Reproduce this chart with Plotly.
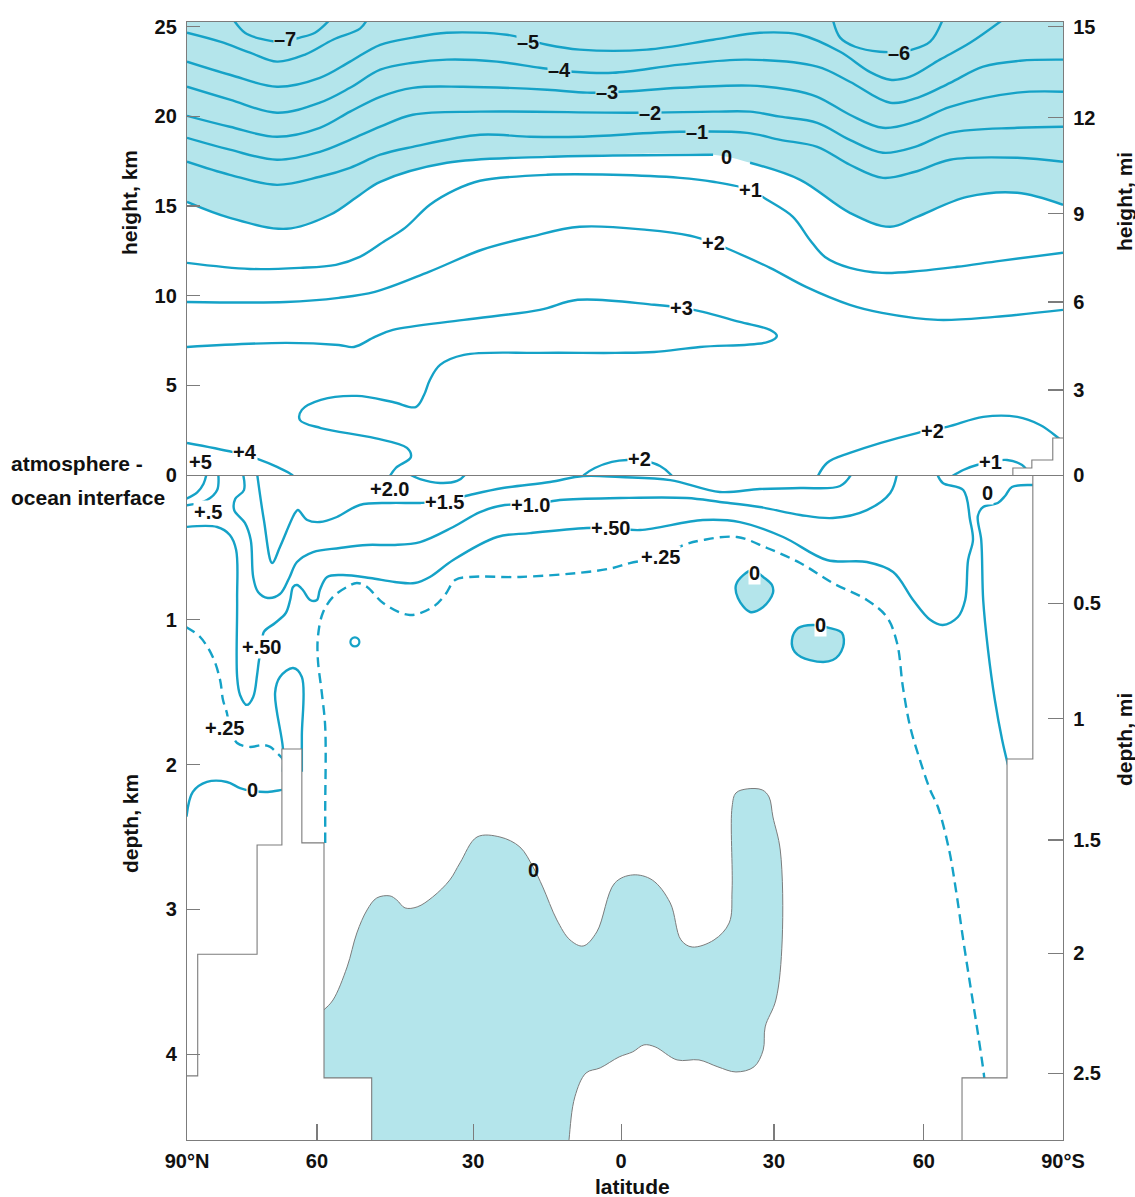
import plotly.graph_objects as go

LINE = '#15a2c7'
SHADE = '#b4e5eb'
GRAY = '#7c7c7c'
TXT = '#111111'
FONT = 'Arial, Liberation Sans, sans-serif'
FS = 20

# ---------------- axis ticks ----------------
lat_tick_vals = [-90, -63.3, -31.2, -0.8, 30.6, 61.4, 90]
lat_tick_text = ['90°N', '60', '30', '0', '30', '60', '90°S']
height_km_ticks = [0, 5, 10, 15, 20, 25]
height_mi_pos = [0, 4.74, 9.65, 14.56, 19.92, 25.0]
height_mi_text = ['0', '3', '6', '9', '12', '15']
depth_km_ticks = [1, 2, 3, 4]
depth_mi_pos = [0.886, 1.683, 2.521, 3.303, 4.132]
depth_mi_text = ['0.5', '1', '1.5', '2', '2.5']

# ---------------- atmosphere contours (latitude, height km) ----------------
atm_m7_lat = [-80.5, -78.1, -75.0, -70.9, -66.8, -63.7, -60.6]
atm_m7_h = [25.4, 24.66, 24.33, 24.16, 24.39, 24.66, 25.4]
atm_m6a_lat = [-90, -83.2, -77.05, -71.5, -65.75, -60.0, -54.45, -53.0]
atm_m6a_h = [24.66, 24.16, 23.55, 23.05, 23.44, 24.27, 24.89, 25.4]
atm_m6b_lat = [42.7, 44.2, 47.3, 52.4, 56.1, 59.0, 62.7, 65.3]
atm_m6b_h = [25.4, 24.39, 23.88, 23.6, 23.6, 23.72, 24.16, 25.4]
atm_m5_lat = [-90, -81.2, -71.5, -62.7, -56.5, -50.3, -43.6, -36.6, -24.3, -19.9, -16.0, -9.3, 4.5,
              18.1, 27.7, 36.0, 44.2, 50.3, 54.5, 58.6, 64.7, 70.9, 77.7]
atm_m5_h = [23.05, 22.32, 21.65, 22.15, 23.05, 23.99, 24.39, 24.66, 24.55, 24.27, 23.99, 23.72, 23.72,
            24.27, 24.66, 24.55, 23.6, 22.48, 22.04, 22.21, 23.16, 24.1, 25.4]
atm_m4_lat = [-90, -81.2, -71.5, -62.7, -56.5, -50.3, -43.6, -36.6, -26.3, -17.5, -10.7, -2.5, 11.3,
              25.1, 39.5, 46.2, 54.5, 60.6, 66.8, 73.6, 81.2, 90]
atm_m4_h = [21.65, 20.93, 20.2, 20.76, 21.59, 22.6, 22.99, 23.16, 23.05, 22.71, 22.49, 22.43, 22.88,
            23.16, 22.77, 21.93, 20.76, 21.09, 21.87, 22.77, 23.1, 23.16]
atm_m3_lat = [-90, -81.2, -71.5, -62.7, -56.5, -50.3, -43.6, -33.3, -16.0, -7.8, -1.0, 11.3, 25.7,
              33.9, 39.5, 46.2, 53.0, 59.6, 66.8, 80.6, 90]
atm_m3_h = [20.03, 19.42, 18.86, 19.36, 20.26, 21.09, 21.59, 21.65, 21.48, 21.32, 21.37, 21.59, 21.71,
            21.48, 21.09, 20.09, 19.36, 19.7, 20.53, 21.32, 21.37]
atm_m2_lat = [-90, -81.2, -71.5, -62.7, -56.5, -50.3, -43.6, -29.8, 1.6, 18.1, 25.7, 31.9, 39.5,
              46.2, 53.0, 59.6, 66.8, 80.6, 90]
atm_m2_h = [18.8, 18.14, 17.58, 18.02, 18.69, 19.42, 20.09, 20.26, 20.2, 20.26, 20.26, 19.98, 19.64,
            18.69, 17.97, 18.3, 19.08, 19.36, 19.42]
atm_m1_lat = [-90, -81.2, -71.5, -62.7, -56.5, -50.3, -43.6, -29.8, -19.5, -9.3, 11.3, 25.1, 31.9,
              39.5, 46.2, 53.0, 59.6, 66.8, 80.6, 90]
atm_m1_h = [17.47, 16.74, 16.18, 16.63, 17.13, 17.86, 18.3, 18.97, 18.86, 18.86, 19.14, 19.08, 18.69,
            18.3, 17.3, 16.57, 16.91, 17.58, 17.69, 17.47]
atm_0_lat = [-90, -81.2, -69.5, -60.6, -54.5, -50.3, -36.6, -16.0, 18.1, 25.7, 36.0, 46.2, 54.5,
             60.0, 70.3, 80.6, 90]
atm_0_h = [15.23, 14.34, 13.73, 14.51, 15.62, 16.35, 17.41, 17.74, 17.86, 17.41, 16.46, 14.62, 13.84,
           14.4, 15.51, 15.74, 15.07]
atm_0_gap = (18.1, 25.7)   # the "0" label sits in this break of the zero line
atm_p1_lat = [-90, -77.05, -66.8, -59.4, -54.5, -49.3, -45.2, -40.1, -34.9, -29.8, -16.0, -2.5, 11.3,
              18.1, 25.7, 29.2, 34.5, 38.0, 41.1, 46.2, 52.8, 60.6, 68.2, 77.05, 90]
atm_p1_h = [11.83, 11.49, 11.55, 11.72, 12.16, 13.06, 13.78, 15.07, 15.9, 16.41, 16.74, 16.74, 16.57,
            16.35, 15.9, 15.35, 14.4, 13.11, 12.16, 11.55, 11.27, 11.38, 11.61, 11.94, 12.39]
atm_p2_lat = [-90, -69.7, -58.8, -51.4, -40.3, -29.4, -19.5, -9.3, 4.5, 13.4, 18.1, 21.6, 29.8,
              37.2, 46.2, 52.8, 64.3, 76.0, 90]
atm_p2_h = [9.65, 9.65, 9.88, 10.21, 11.33, 12.56, 13.28, 13.84, 13.67, 13.34, 12.95, 12.56, 11.55,
            10.49, 9.49, 9.04, 8.65, 8.82, 9.21]
atm_p3_lat = [-90, -69.7, -58.8, -55.7, -51.4, -47.7, -33.1, -17.5, -9.7, 6.0, 11.7, 16.0, 23.6,
              29.8, 31.2, 29.4, 15.4, 6.0, -1.9, -17.5, -33.1, -38.0, -40.1, -41.3, -43.0, -47.7,
              -55.1, -62.5, -66.4, -66.8, -62.5, -51.4, -44.8, -44.0, -47.1, -48.5]
atm_p3_h = [7.14, 7.37, 7.25, 7.14, 7.7, 8.09, 8.65, 9.21, 9.77, 9.49, 9.32, 9.1, 8.54,
            8.09, 7.76, 7.42, 7.14, 6.86, 6.81, 6.81, 6.7, 6.14, 5.3, 4.46, 3.79, 4.07,
            4.41, 4.19, 3.63, 3.07, 2.62, 2.06, 1.51, 1.0, 0.39, -0.15]
atm_p4_lat = [-90, -80.55, -75.4, -71.5, -68.4, -67.5]
atm_p4_h = [1.79, 1.28, 0.89, 0.45, 0.0, -0.3]
atm_p2c_lat = [-9.0, -8.4, -6.2, -2.7, 0.4, 4.1, 7.2, 9.5, 10.0]
atm_p2c_h = [-0.2, 0.0, 0.39, 0.73, 0.84, 0.78, 0.5, 0.0, -0.2]
atm_p2r_lat = [39.2, 41.5, 46.2, 60.0, 66.2, 73.6, 80.6, 85.3, 88.8, 90.5]
atm_p2r_h = [-0.3, 0.67, 1.23, 2.34, 2.68, 3.24, 3.24, 2.79, 2.12, 1.7]
atm_p1r_lat = [67.0, 69.5, 72.3, 78.5, 81.6, 82.5]
atm_p1r_h = [-0.1, 0.28, 0.56, 0.84, 0.56, 0.3]
# Antarctic surface in the atmosphere panel
ant_lat = [79.7, 79.7, 83.6, 83.6, 87.9, 87.9, 90.5, 90.5]
ant_h = [-0.5, 0.39, 0.39, 0.84, 0.84, 2.06, 2.06, -0.5]

# ---------------- ocean contours (latitude, depth km) ----------------
ocn_a_lat = [-85.9, -86.6, -87.9, -90.2]
ocn_a_d = [-0.02, 0.06, 0.12, 0.165]
ocn_b_lat = [-83.6, -83.8, -85.9, -90.2]
ocn_b_d = [-0.02, 0.104, 0.173, 0.21]
ocn_p20_lat = [-44.6, -42.1, -38.0, -34.5, -32.9, -32.6]
ocn_p20_d = [-0.01, 0.028, 0.055, 0.041, 0.0, -0.02]
ocn_p15_lat = [-75.6, -74.2, -72.5, -70.9, -67.8, -67.2, -65.3, -62.7, -59.2, -54.5, -48.3, -42.1,
               -37.0, -31.9, -25.1, -15.4, -8.6, -1.0, 9.3, 19.5, 27.7, 36.0, 44.2, 46.6]
ocn_p15_d = [-0.01, 0.311, 0.608, 0.497, 0.262, 0.242, 0.311, 0.325, 0.29, 0.207, 0.193, 0.193,
             0.18, 0.138, 0.09, 0.048, 0.007, 0.014, 0.035, 0.117, 0.097, 0.09, 0.076, -0.01]
ocn_p10_lat = [-78.5, -78.3, -80.1, -80.3, -78.1, -76.9, -76.4, -75.4, -73.4, -70.9, -69.0, -67.4,
               -64.1, -58.6, -53.0, -47.7, -42.1, -35.3, -29.8, -24.7, -19.5, -13.4, -1.0, 12.7,
               19.5, 27.7, 36.0, 42.7, 49.7, 54.5, 55.9]
ocn_p10_d = [-0.01, 0.104, 0.166, 0.242, 0.331, 0.449, 0.704, 0.808, 0.849, 0.822, 0.711, 0.601,
             0.532, 0.504, 0.483, 0.483, 0.463, 0.359, 0.256, 0.207, 0.207, 0.173, 0.159, 0.159,
             0.186, 0.221, 0.276, 0.297, 0.242, 0.124, -0.01]
ocn_p05_lat = [-90.2, -83.8, -81.2, -79.9, -79.7, -79.7, -79.1, -77.7, -76.4, -75.6, -75.2, -74.6,
               -74.2, -71.9, -69.7, -68.8, -68.2, -67.4, -66.2, -64.7, -63.3, -62.7, -61.2, -58.0,
               -52.4, -47.3, -43.2, -40.1, -35.3, -26.3, -19.5, -7.8, -2.9, 3.1, 16.0, 23.6, 32.5,
               41.5, 49.7, 55.1, 59.2, 62.7, 65.3, 68.4, 69.9, 70.5, 71.5, 70.9, 69.5, 65.3, 64.1]
ocn_p05_d = [0.359, 0.359, 0.414, 0.518, 0.863, 1.395, 1.519, 1.588, 1.533, 1.381, 1.278, 1.181,
             1.084, 1.022, 0.953, 0.863, 0.773, 0.76, 0.794, 0.863, 0.863, 0.794, 0.704, 0.691,
             0.711, 0.739, 0.746, 0.704, 0.587, 0.428, 0.401, 0.366, 0.366, 0.38, 0.311, 0.325, 0.428,
             0.587, 0.601, 0.67, 0.863, 1.0, 1.036, 0.981, 0.863, 0.587, 0.449, 0.311, 0.104, 0.055, -0.01]
ocn_lobe_lat = [-70.3, -70.3, -71.9, -70.9, -68.2, -66.4, -66.4, -66.4]
ocn_lobe_d = [2.05, 1.885, 1.505, 1.395, 1.333, 1.395, 1.8, 2.05]
ocn_p25_lat = [-61.6, -61.6, -61.6, -62.3, -63.1, -63.1, -62.1, -60.0, -57.1, -55.1, -53.0, -49.7,
               -44.2, -39.5, -37.0, -34.9, -31.9, -21.6, -7.8, -2.5, 1.0, 7.2, 12.1, 16.0, 23.0,
               29.2, 36.0, 42.7, 49.7, 53.8, 55.9, 57.1, 58.6, 60.6, 62.7, 64.3, 66.6, 68.0, 69.5,
               71.1, 72.5, 73.8, 74.0]
ocn_p25_d = [2.541, 2.313, 1.74, 1.505, 1.278, 1.119, 0.953, 0.842, 0.773, 0.746, 0.773, 0.884,
             0.967, 0.912, 0.829, 0.725, 0.704, 0.704, 0.67, 0.642, 0.608, 0.566, 0.483, 0.449, 0.428,
             0.504, 0.608, 0.746, 0.863, 0.981, 1.16, 1.464, 1.74, 1.968, 2.175, 2.293, 2.59, 2.866,
             3.211, 3.557, 3.853, 4.157, 4.247]
ocn_p25l_lat = [-90.2, -87.3, -84.7, -83.2, -82.6, -81.8, -81.2, -79.7, -77.1, -74.4, -72.9, -71.5,
                -70.5, -69.9]
ocn_p25l_d = [1.05, 1.119, 1.257, 1.416, 1.554, 1.644, 1.747, 1.851, 1.878, 1.865, 1.878, 1.92,
              1.954, 2.003]
ocn_0l_lat = [-90.1, -88.8, -85.9, -81.8, -79.1, -76.6, -73.4, -70.5, -69.5]
ocn_0l_d = [2.36, 2.189, 2.12, 2.12, 2.162, 2.182, 2.189, 2.175, 2.17]
ocn_0r_lat = [86.3, 83.8, 79.5, 78.1, 76.6, 73.6, 72.5, 73.2, 73.6, 74.6, 76.0, 77.5, 78.7]
ocn_0r_d = [0.069, 0.069, 0.083, 0.145, 0.193, 0.221, 0.283, 0.449, 0.863, 1.209, 1.554, 1.83, 2.003]
blob1_lat = [26.3, 24.3, 22.8, 23.2, 25.7, 28.4, 30.4, 30.2, 28.4, 26.3]
blob1_d = [0.656, 0.691, 0.76, 0.849, 0.946, 0.912, 0.815, 0.76, 0.704, 0.656]
blob2_lat = [38.6, 35.6, 34.3, 34.9, 38.0, 42.7, 44.8, 44.6, 42.1, 38.6]
blob2_d = [1.036, 1.057, 1.14, 1.222, 1.278, 1.278, 1.188, 1.091, 1.057, 1.036]
deep_lat = [-63.1, -63.1, -61.9, -60.0, -57.1, -55.1, -53.0, -51.0, -48.3, -46.9, -45.2, -42.7, -39.5,
            -36.0, -33.9, -30.4, -25.7, -21.6, -18.9, -16.9, -14.0, -11.3, -8.6, -5.8, -2.1, 1.6,
            5.6, 9.3, 11.5, 13.8, 18.3, 21.4, 22.0, 22.0, 22.8, 25.1, 28.2, 29.6, 30.4, 31.9, 32.3,
            31.0, 28.8, 28.4, 26.5, 22.8, 19.1, 15.2, 10.7, 6.2, 3.9, 1.6, -1.2, -5.1, -8.0, -10.3,
            -11.5, -11.9, -63.1]
deep_d = [4.8, 3.729, 3.695, 3.626, 3.398, 3.163, 3.004, 2.921, 2.907, 2.935, 2.99, 2.983, 2.914,
          2.797, 2.679, 2.5, 2.5, 2.569, 2.707, 2.845, 3.073, 3.211, 3.253, 3.156, 2.818, 2.762,
          2.797, 2.956, 3.211, 3.26, 3.211, 3.094, 2.866, 2.293, 2.196, 2.168, 2.175, 2.224, 2.362,
          2.59, 3.211, 3.626, 3.812, 3.971, 4.088, 4.123, 4.088, 4.04, 4.04, 3.95, 3.936, 3.984,
          4.019, 4.095, 4.13, 4.295, 4.592, 4.8, 4.8]
ring_lat = [-55.5]
ring_d = [1.153]

# ---------------- sea floor ----------------
land_left_lat = [-90.5, -87.8, -87.8, -75.6, -75.6, -70.5, -70.5, -66.4, -66.4, -61.85, -61.85,
                 -52.05, -52.05, -90.5]
land_left_d = [4.15, 4.15, 3.31, 3.31, 2.555, 2.555, 1.892, 1.892, 2.541, 2.541, 4.164, 4.164, 4.8, 4.8]
land_right_lat = [69.25, 69.25, 78.5, 78.5, 83.8, 83.8, 90.5, 90.5]
land_right_d = [4.8, 4.164, 4.164, 1.961, 1.961, -0.05, -0.05, 4.8]

# ---------------- contour labels ----------------
atm_lbl_text = ['–7', '–6', '–5', '–4', '–3', '–2', '–1', '0', '+1', '+2', '+3', '+2', '+2', '+1', '+4', '+5']
atm_lbl_lat = [-69.9, 56.3, -19.9, -13.4, -3.7, 5.1, 14.8, 20.9, 25.7, 18.1, 11.7, 2.9, 63.1, 75.0, -78.1, -87.3]
atm_lbl_h = [24.3, 23.55, 24.16, 22.6, 21.37, 20.2, 19.14, 17.74, 15.9, 12.95, 9.32, 0.89, 2.46, 0.73, 1.28, 0.73]
atm_lbl_bg = [SHADE] * 7 + ['rgba(0,0,0,0)'] + ['white'] * 8
ocn_lbl_text = ['+2.0', '+1.5', '+1.0', '+.50', '+.25', '+.5', '+.50', '+.25', '0', '0', '0', '0', '0']
ocn_lbl_lat = [-48.3, -37.0, -19.5, -3.0, 7.3, -85.7, -74.6, -82.2, -76.6, 26.7, 40.1, -18.9, 74.4]
ocn_lbl_d = [0.1, 0.186, 0.207, 0.366, 0.563, 0.255, 1.188, 1.747, 2.175, 0.675, 1.036, 2.728, 0.124]
ocn_lbl_bg = ['white'] * 11 + ['rgba(0,0,0,0)', 'white']

# ---------------- figure ----------------
fig = go.Figure()
TOP = ('x2', 'y')
OCN = ('x', 'y2')


def add_line(lat, val, axes, dash='solid', color=LINE, width=2.4, fill=None, fillcolor=None, shape='spline'):
    fig.add_trace(go.Scatter(x=lat, y=val, xaxis=axes[0], yaxis=axes[1], mode='lines',
                             line=dict(color=color, width=width, dash=dash, shape=shape, smoothing=1.0),
                             fill=fill, fillcolor=fillcolor, hoverinfo='skip', showlegend=False))


# stratospheric cooling shading (above the 0 contour)
add_line([-90, 90], [26, 26], TOP, width=0)
add_line(atm_0_lat, atm_0_h, TOP, width=0, fill='tonexty', fillcolor=SHADE)
z_left = [(a, b) for a, b in zip(atm_0_lat, atm_0_h) if a <= atm_0_gap[0]]
z_right = [(a, b) for a, b in zip(atm_0_lat, atm_0_h) if a >= atm_0_gap[1]]
add_line([p[0] for p in z_left], [p[1] for p in z_left], TOP)
add_line([p[0] for p in z_right], [p[1] for p in z_right], TOP)
for la, hv in [(atm_m7_lat, atm_m7_h), (atm_m6a_lat, atm_m6a_h), (atm_m6b_lat, atm_m6b_h),
               (atm_m5_lat, atm_m5_h), (atm_m4_lat, atm_m4_h), (atm_m3_lat, atm_m3_h),
               (atm_m2_lat, atm_m2_h), (atm_m1_lat, atm_m1_h), (atm_p1_lat, atm_p1_h),
               (atm_p2_lat, atm_p2_h), (atm_p3_lat, atm_p3_h), (atm_p4_lat, atm_p4_h),
               (atm_p2c_lat, atm_p2c_h), (atm_p2r_lat, atm_p2r_h), (atm_p1r_lat, atm_p1r_h)]:
    add_line(la, hv, TOP)
add_line(ant_lat, ant_h, TOP, color=GRAY, width=1.1, fill='toself', fillcolor='white', shape='linear')

# ocean
add_line(deep_lat, deep_d, OCN, color=GRAY, width=1.0, fill='toself', fillcolor=SHADE)
add_line(blob1_lat, blob1_d, OCN, fill='toself', fillcolor=SHADE)
add_line(blob2_lat, blob2_d, OCN, fill='toself', fillcolor=SHADE)
for la, dv in [(ocn_a_lat, ocn_a_d), (ocn_b_lat, ocn_b_d), (ocn_p20_lat, ocn_p20_d),
               (ocn_p15_lat, ocn_p15_d), (ocn_p10_lat, ocn_p10_d), (ocn_p05_lat, ocn_p05_d),
               (ocn_lobe_lat, ocn_lobe_d), (ocn_0l_lat, ocn_0l_d), (ocn_0r_lat, ocn_0r_d)]:
    add_line(la, dv, OCN)
add_line(ocn_p25_lat, ocn_p25_d, OCN, dash='10px,6px')
add_line(ocn_p25l_lat, ocn_p25l_d, OCN, dash='10px,6px')
fig.add_trace(go.Scatter(x=ring_lat, y=ring_d, xaxis='x', yaxis='y2', mode='markers',
                         marker=dict(symbol='circle-open', size=9, color=LINE, line=dict(width=2.2, color=LINE)),
                         hoverinfo='skip', showlegend=False))
add_line(land_left_lat, land_left_d, OCN, color=GRAY, width=1.1, fill='toself', fillcolor='white', shape='linear')
add_line(land_right_lat, land_right_d, OCN, color=GRAY, width=1.1, fill='toself', fillcolor='white', shape='linear')

# invisible helpers so that the mile axes on the right get drawn
for xa, ya in [('x2', 'y3'), ('x', 'y4')]:
    fig.add_trace(go.Scatter(x=[0], y=[1], xaxis=xa, yaxis=ya, mode='markers',
                             marker=dict(size=1, opacity=0), hoverinfo='skip', showlegend=False))

ann = []
for t, la, hv, bg in zip(atm_lbl_text, atm_lbl_lat, atm_lbl_h, atm_lbl_bg):
    ann.append(dict(x=la, y=hv, xref='x2', yref='y', text='<b>%s</b>' % t, showarrow=False,
                    font=dict(family=FONT, size=FS, color=TXT), bgcolor=bg, borderpad=0))
for t, la, dv, bg in zip(ocn_lbl_text, ocn_lbl_lat, ocn_lbl_d, ocn_lbl_bg):
    ann.append(dict(x=la, y=dv, xref='x', yref='y2', text='<b>%s</b>' % t, showarrow=False,
                    font=dict(family=FONT, size=FS, color=TXT), bgcolor=bg, borderpad=0))

titles = [('height, km', -0.0651, 0.839, -90), ('depth, km', -0.0651, 0.2835, -90),
          ('height, mi', 1.0708, 0.839, -90), ('depth, mi', 1.0708, 0.3578, -90),
          ('latitude', 0.508, -0.042, 0)]
for t, x, y, ang in titles:
    ann.append(dict(x=x, y=y, xref='paper', yref='paper', text='<b>%s</b>' % t, showarrow=False,
                    textangle=ang, font=dict(family=FONT, size=21, color=TXT), xanchor='center', yanchor='middle'))
ann.append(dict(x=-0.203, y=0.6047, xref='paper', yref='paper', text='<b>atmosphere -</b>', showarrow=False,
                font=dict(family=FONT, size=21, color=TXT), xanchor='left', yanchor='middle'))
ann.append(dict(x=-0.203, y=0.5751, xref='paper', yref='paper', text='<b>ocean interface</b>', showarrow=False,
                font=dict(family=FONT, size=21, color=TXT), xanchor='left', yanchor='middle'))

D = 0.5948
tickfont = dict(family=FONT, size=FS, color=TXT)
common = dict(showgrid=False, zeroline=False, showline=True, linecolor=GRAY, linewidth=1.2,
              tickcolor=GRAY, tickwidth=1.2, tickfont=tickfont)

fig.update_layout(
    width=1135, height=1197, margin=dict(l=187, r=72, t=22, b=57),
    paper_bgcolor='white', plot_bgcolor='white', showlegend=False, annotations=ann,
    xaxis=dict(domain=[0, 1], anchor='y2', range=[-90, 90], tickvals=lat_tick_vals, ticks='inside',
               ticktext=['<b>%s</b>' % t for t in lat_tick_text], ticklen=16, ticklabelstandoff=3, **common),
    xaxis2=dict(domain=[0, 1], anchor='y', range=[-90, 90], showticklabels=False, mirror=True, ticks='',
                **common),
    yaxis=dict(domain=[D, 1], anchor='x2', range=[0, 25.26], tickvals=height_km_ticks, ticks='inside',
               ticktext=['<b>%d</b>' % v for v in height_km_ticks], ticklen=13, ticklabelstandoff=5, **common),
    yaxis2=dict(domain=[0, D], anchor='x', range=[4.593, 0], tickvals=depth_km_ticks, ticks='inside',
                ticktext=['<b>%d</b>' % v for v in depth_km_ticks], ticklen=13, ticklabelstandoff=5, **common),
    yaxis3=dict(overlaying='y', side='right', anchor='x2', range=[0, 25.26], tickvals=height_mi_pos,
                ticks='inside', ticktext=['<b>%s</b>' % t for t in height_mi_text], ticklen=15,
                ticklabelstandoff=5, **common),
    yaxis4=dict(overlaying='y2', side='right', anchor='x', range=[4.593, 0], tickvals=depth_mi_pos,
                ticks='inside', ticktext=['<b>%s</b>' % t for t in depth_mi_text], ticklen=15,
                ticklabelstandoff=5, **common),
)

fig.write_html('out.html', config={'displayModeBar': False, 'staticPlot': True},
               post_script="document.body.style.margin='0';document.body.style.overflow='hidden';")
